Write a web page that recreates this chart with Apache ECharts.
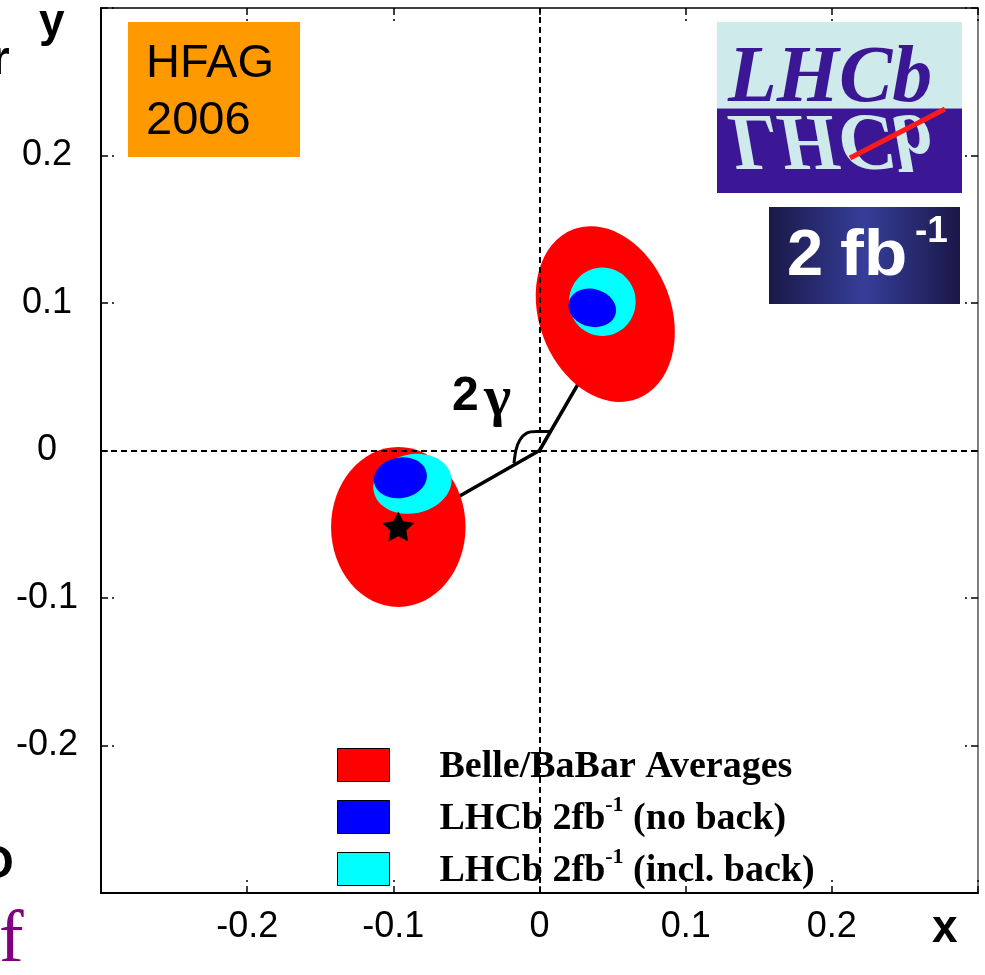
<!DOCTYPE html>
<html>
<head>
<meta charset="utf-8">
<script src="https://cdn.jsdelivr.net/npm/echarts@6/dist/echarts.min.js"></script>
<style>
  html, body { margin: 0; padding: 0; background: #fff; }
  #chart { width: 985px; height: 975px; }
</style>
</head>
<body>
<div id="chart"></div>
<script>
// axis range
const axisMin = -0.3
const axisMax = 0.3
const tickStep = 0.1

// ellipses: centre x, centre y, half-width, half-height (data units), tilt in degrees
const belleBabar = [
  [0.0450, 0.0925, 0.0452, 0.0614, 20.6],
  [-0.0966, -0.0519, 0.0460, 0.0542, 0]
]
const lhcbInclBack = [
  [0.0430, 0.1009, 0.0228, 0.0232, 0],
  [-0.0869, -0.0226, 0.0270, 0.0200, 12]
]
const lhcbNoBack = [
  [0.0361, 0.0967, 0.0165, 0.0128, -15],
  [-0.0952, -0.0185, 0.0183, 0.0137, 10]
]
// true value marker
const trueValue = [[-0.0966, -0.0515]]
// lines from origin to the two solutions, and the angle mark
const gammaLines = [[-0.0900, -0.0508], [0, 0], [0.0450, 0.0768]]
const angleArc = [
  [-0.01744, -0.00854], [-0.01607, 0.00047], [-0.01334, 0.00725],
  [-0.00876, 0.01180], [-0.00192, 0.01288], [0.00752, 0.01288]
]
const seriesNames = ['Belle/BaBar Averages', 'LHCb 2fb-1 (no back)', 'LHCb 2fb-1 (incl. back)']

const chart = echarts.init(document.getElementById('chart'))

function tickLabel (v) {
  if (Math.abs(v) > 0.25) return ''
  return String(+v.toFixed(1))
}

// legend text: superscript the "-1"
function legendLabel (n) {
  const parts = n.split('-1')
  if (parts.length === 1) return '{m|' + n + '}'
  return '{m|' + parts[0] + '}{sup|-1}{m|' + parts[1] + '}'
}

function ellipseSeries (name, color, data, z) {
  return {
    type: 'custom',
    name: name,
    z: z,
    data: data,
    encode: { x: 0, y: 1 },
    itemStyle: { color: color },
    silent: true,
    renderItem: function (params, api) {
      const c = api.coord([api.value(0), api.value(1)])
      const s = api.size([api.value(2), api.value(3)])
      return {
        type: 'group',
        x: c[0],
        y: c[1],
        rotation: api.value(4) * Math.PI / 180,
        children: [{
          type: 'ellipse',
          shape: { cx: 0, cy: 0, rx: s[0], ry: s[1] },
          style: { fill: color }
        }]
      }
    }
  }
}

const tickStyle = { color: '#000', width: 1.5, type: [7, 4] }
const base = { type: 'value', min: axisMin, max: axisMax, interval: tickStep, splitLine: { show: false } }

const option = {
  animation: false,
  grid: { left: 101, right: 7, top: 8, bottom: 82 },
  xAxis: [
    Object.assign({}, base, {
      position: 'bottom',
      axisLine: { show: true, onZero: false, lineStyle: { color: '#000', width: 2 } },
      axisTick: { inside: true, length: 13, lineStyle: tickStyle },
      axisLabel: { formatter: tickLabel, fontFamily: 'Liberation Sans', fontSize: 36, color: '#000', margin: 16 }
    }),
    Object.assign({}, base, {
      position: 'top',
      axisLine: { show: true, onZero: false, lineStyle: { color: '#000', width: 1.5 } },
      axisTick: { inside: true, length: 13, lineStyle: tickStyle },
      axisLabel: { show: false }
    })
  ],
  yAxis: [
    Object.assign({}, base, {
      position: 'left',
      axisLine: { show: true, onZero: false, lineStyle: { color: '#000', width: 2 } },
      axisTick: { inside: true, length: 13, lineStyle: tickStyle },
      axisLabel: { formatter: tickLabel, fontFamily: 'Liberation Sans', fontSize: 36, color: '#000', margin: 54, align: 'center', padding: [4, 0, 0, 0] }
    }),
    Object.assign({}, base, {
      position: 'right',
      axisLine: { show: true, onZero: false, lineStyle: { color: '#555', width: 1.5 } },
      axisTick: { inside: true, length: 13, lineStyle: tickStyle },
      axisLabel: { show: false }
    })
  ],
  legend: {
    data: seriesNames,
    orient: 'vertical',
    left: 337,
    top: 744,
    padding: 0,
    itemWidth: 52,
    itemHeight: 33,
    itemGap: 8,
    icon: 'rect',
    selectedMode: false,
    itemStyle: { borderColor: '#000', borderWidth: 1 },
    formatter: legendLabel,
    textStyle: {
      color: '#000',
      padding: [0, 0, 0, 45],
      rich: {
        m: { fontFamily: 'Liberation Serif', fontWeight: 'bold', fontSize: 38, color: '#000', lineHeight: 46, padding: [4, 0, 0, 0] },
        sup: { fontFamily: 'Liberation Serif', fontWeight: 'bold', fontSize: 22, color: '#000', lineHeight: 14, verticalAlign: 'top' }
      }
    }
  },
  series: [
    {
      type: 'line',
      z: 1,
      data: gammaLines,
      symbol: 'none',
      silent: true,
      lineStyle: { color: '#000', width: 3.5 }
    },
    {
      type: 'line',
      z: 1,
      data: angleArc,
      symbol: 'none',
      smooth: 0.3,
      silent: true,
      lineStyle: { color: '#000', width: 3 }
    },
    ellipseSeries(seriesNames[0], '#ff0000', belleBabar, 2),
    ellipseSeries(seriesNames[2], '#00ffff', lhcbInclBack, 3),
    ellipseSeries(seriesNames[1], '#0000ff', lhcbNoBack, 4),
    {
      type: 'scatter',
      z: 6,
      data: trueValue,
      silent: true,
      symbol: 'path://M0,-10 L2.939,-4.045 L9.511,-3.09 L4.755,1.545 L5.878,8.09 L0,5 L-5.878,8.09 L-4.755,1.545 L-9.511,-3.09 L-2.939,-4.045 Z',
      symbolSize: [32, 30],
      itemStyle: { color: '#000', opacity: 1 },
      markLine: {
        silent: true,
        symbol: 'none',
        label: { show: false },
        lineStyle: { color: '#000', width: 2, type: [6, 4], opacity: 1 },
        data: [{ xAxis: 0 }, { yAxis: 0 }]
      }
    }
  ],
  graphic: [
    // HFAG box
    { type: 'rect', shape: { x: 128, y: 22, width: 172, height: 135 }, style: { fill: '#ff9900' } },
    { type: 'text', x: 146, y: 64, style: { text: 'HFAG', font: '47px "Liberation Sans"', fill: '#000', verticalAlign: 'middle' } },
    { type: 'text', x: 146, y: 121, style: { text: '2006', font: '47px "Liberation Sans"', fill: '#000', verticalAlign: 'middle' } },
    // LHCb logo
    { type: 'rect', shape: { x: 717, y: 22, width: 245, height: 86.5 }, style: { fill: '#cfeaea' } },
    { type: 'rect', shape: { x: 717, y: 108.5, width: 245, height: 84.5 }, style: { fill: '#3b1796' } },
    { type: 'text', x: 728, y: 107, scaleX: 1.08, scaleY: 1.1, style: { text: 'LHCb', x: 0, y: -24.5, font: 'italic bold 74px "Liberation Serif"', fill: '#3b1796', verticalAlign: 'middle' } },
    { type: 'text', x: 728, y: 110, scaleX: 1.08, scaleY: -1.1, style: { text: 'LHCb', x: 0, y: -24.5, font: 'italic bold 74px "Liberation Serif"', fill: '#cfeaea', verticalAlign: 'middle' } },
    { type: 'line', shape: { x1: 850, y1: 158, x2: 945, y2: 109 }, style: { stroke: '#ff1a1a', lineWidth: 5 } },
    // 2 fb-1 box
    {
      type: 'rect',
      shape: { x: 769, y: 207, width: 191, height: 97 },
      style: {
        fill: new echarts.graphic.LinearGradient(0, 0, 1, 0, [
          { offset: 0, color: '#1a1848' },
          { offset: 0.5, color: '#363e99' },
          { offset: 1, color: '#1a1848' }
        ])
      }
    },
    { type: 'text', x: 787, y: 257, style: { text: '2', font: 'bold 65px "Liberation Sans"', fill: '#fff', verticalAlign: 'middle' } },
    { type: 'text', x: 840, y: 257, scaleX: 1.1, style: { text: 'fb', font: 'bold 65px "Liberation Sans"', fill: '#fff', verticalAlign: 'middle' } },
    { type: 'text', x: 915, y: 232, style: { text: '-1', font: 'bold 37px "Liberation Sans"', fill: '#fff', verticalAlign: 'middle' } },
    // 2 gamma label
    { type: 'text', x: 452, y: 397, style: { text: '2', font: 'bold 48px "Liberation Sans"', fill: '#000', verticalAlign: 'middle' } },
    { type: 'text', x: 484, y: 400, style: { text: 'γ', font: 'bold 58px "Liberation Serif"', fill: '#000', verticalAlign: 'middle' } },
    // axis titles
    { type: 'text', x: 39, y: 23, style: { text: 'y', font: 'bold 46px "Liberation Sans"', fill: '#000', verticalAlign: 'middle' } },
    { type: 'text', x: 932, y: 929, style: { text: 'x', font: 'bold 46px "Liberation Sans"', fill: '#000', verticalAlign: 'middle' } },
    // cut-off text at left edge of the page
    { type: 'text', x: -9, y: 61, style: { text: 'r', font: 'bold 48px "Liberation Sans"', fill: '#000', verticalAlign: 'middle' } },
    { type: 'text', x: -22, y: 865, style: { text: 'O', font: 'bold 46px "Liberation Sans"', fill: '#000', verticalAlign: 'middle' } },
    { type: 'text', x: -1, y: 942, style: { text: 'f', font: '74px "Liberation Serif"', fill: '#800080', verticalAlign: 'middle' } }
  ]
}

chart.setOption(option)
</script>
</body>
</html>
